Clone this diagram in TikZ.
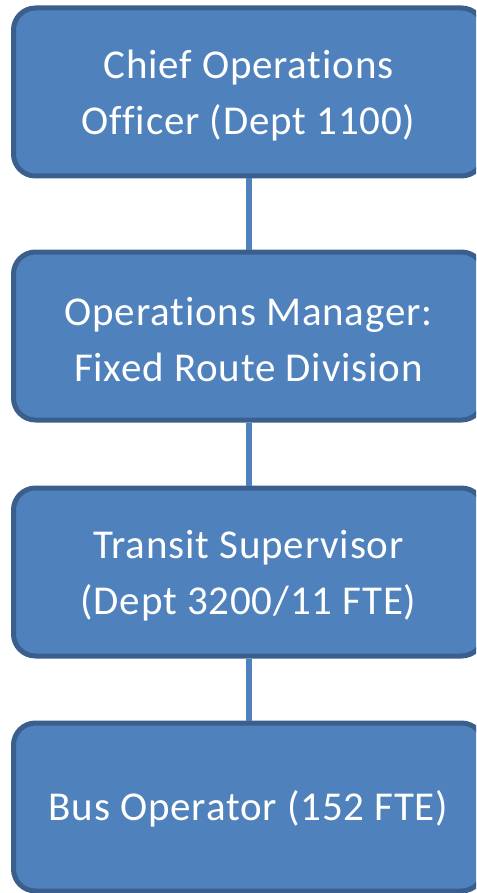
\documentclass[tikz,border=0pt]{standalone}
\usepackage{fontspec}
\setmainfont[Ligatures=NoCommon,LetterSpace=2]{Carlito}
\definecolor{boxfill}{HTML}{4F81BD}
\definecolor{boxline}{HTML}{3A5F8D}
\begin{document}
\begin{tikzpicture}[x=1pt,y=-1pt,
  orgbox/.style={draw=boxline, fill=boxfill, line width=5pt, rounded corners=22pt,
    minimum width=470pt, minimum height=168pt, inner sep=0pt},
  boxtext/.style={text=white, align=center, inner sep=0pt,
    font=\fontsize{41}{56}\selectfont},
  link/.style={draw=boxfill, line width=6pt}]
  \useasboundingbox (0,0) rectangle (476,893);
  \clip (0,0) rectangle (476,893);
  % boxes
  \node[orgbox] (coo) at (248.5,92) {};
  \node[orgbox] (opm) at (248.5,336) {};
  \node[orgbox] (sup) at (248.5,572) {};
  \node[orgbox] (bus) at (248.5,807) {};
  % labels, set a little below each box centre
  \node[boxtext] (coo-t) at ([yshift=-4pt]coo.center) {Chief Operations\\Officer (Dept 1100)};
  \node[boxtext] (opm-t) at ([yshift=-4pt]opm.center) {Operations Manager:\\Fixed Route Division};
  \node[boxtext] (sup-t) at ([yshift=-4pt]sup.center) {Transit Supervisor\\(Dept 3200/11 FTE)};
  \node[boxtext] (bus-t) at ([yshift=-2pt]bus.center) {Bus Operator (152 FTE)};
  % reporting lines
  \draw[link] (coo.south) -- (opm.north);
  \draw[link] (opm.south) -- (sup.north);
  \draw[link] (sup.south) -- (bus.north);
\end{tikzpicture}
\end{document}
